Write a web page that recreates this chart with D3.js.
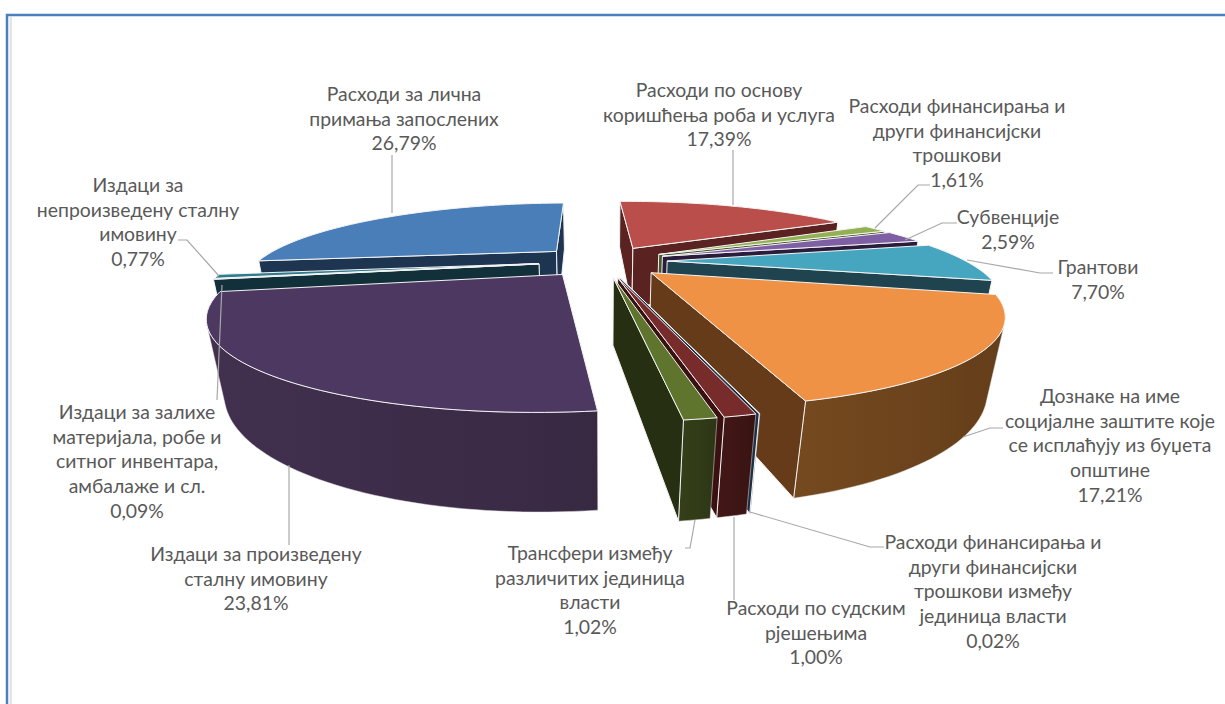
<!DOCTYPE html>
<html>
<head>
<meta charset="utf-8">
<script src="https://cdnjs.cloudflare.com/ajax/libs/d3/7.8.5/d3.min.js"></script>
<style>
  html, body { margin: 0; padding: 0; background: #fff; }
  svg { display: block; }
</style>
</head>
<body>
<div id="chartContainer"></div>
<script>
// values in %, clockwise from the top of the pie
const values = [17.39, 1.61, 2.59, 7.70, 17.21, 0.02, 1.00, 1.02, 23.81, 0.09, 0.77, 26.79];
const valueLabels = ["17,39%", "1,61%", "2,59%", "7,70%", "17,21%", "0,02%", "1,00%", "1,02%", "23,81%", "0,09%", "0,77%", "26,79%"];
const categories = [
  ["Расходи по основу", "коришћења роба и услуга"],
  ["Расходи финансирања и", "други финансијски", "трошкови"],
  ["Субвенције"],
  ["Грантови"],
  ["Дознаке на име", "социјалне заштите које", "се исплаћују из буџета", "општине"],
  ["Расходи финансирања и", "други финансијски", "трошкови између", "јединица власти"],
  ["Расходи по судским", "рјешењима"],
  ["Трансфери између", "различитих јединица", "власти"],
  ["Издаци за произведену", "сталну имовину"],
  ["Издаци за залихе", "материјала, робе и", "ситног инвентара,", "амбалаже и сл."],
  ["Издаци за", "непроизведену сталну", "имовину"],
  ["Расходи за лична", "примања запослених"]
];
const topColors = ["#b94e4b", "#93b052", "#7f5fa3", "#46a6c0", "#f09245", "#3a5a80", "#772b2b", "#5f752e", "#4c3860", "#276a7c", "#2f7c8e", "#4a7eb8"];
const wallColors = ["#5a2220", "#46552a", "#3a2a50", "#1f444f", "#75491f", "#1d2f45", "#421616", "#343f19", "#42304f", "#12303a", "#102a30", "#1e3552"];
const sideColors = ["#5a2220", "#46552a", "#2a1c3c", "#1f444f", "#653b1a", "#1d2f45", "#3a1010", "#272f12", "#42304f", "#12303a", "#102a30", "#1e3552"];

// label centre x and first line centre y, then leader line points
const labelPos = [[719, 90], [957, 106], [1008, 217], [1098, 267], [1110, 396], [993, 542], [816, 608], [590, 553], [256, 554], [137, 412], [138, 185], [404, 94]];
const leaders = [
  [[733, 150], [733, 205]],
  [[930, 185], [918, 185], [875, 228]],
  [[957, 223], [942, 223], [905, 240]],
  [[1053, 273], [1040, 273], [967, 260]],
  [[1003, 428], [990, 428], [963, 437]],
  [[884, 547], [870, 547], [750, 512]],
  [[734, 600], [734, 517]],
  [[685, 548], [690, 548], [695, 520]],
  [[289, 545], [289, 465]],
  [[217, 400], [222, 285]],
  [[178, 240], [187, 240], [219, 276]],
  [[392, 155], [392, 213]]
];

const width = 1225, height = 704;
const svg = d3.select("#chartContainer").append("svg")
  .attr("width", width).attr("height", height)
  .style("font-family", "Lato, 'Noto Sans', sans-serif");
const defs = svg.append("defs");

// frame
svg.append("rect").attr("x", 9.5).attr("y", 17).attr("width", 2.5).attr("height", height).attr("fill", "#e4e4e4");
svg.append("path")
  .attr("d", `M7,${height}V15H${width}`)
  .attr("fill", "none").attr("stroke", "#4a7fbe").attr("stroke-width", 2.5);

// perspective camera
const cx = 603, cy = 261, focal = 776, camDist = 2.6;
const sinE = 0.243, cosE = 0.97, depthDrop = 0.42;
const explode = 0.215, thickness = 0.225;
const startAngle = -0.025;

function project(x, y, z) {
  const zc = camDist + y * cosE - z * depthDrop;
  return [cx + focal * x / zc, cy - focal * (y * sinE + z * cosE) / zc];
}

const arcs = d3.pie().sort(null)
  .startAngle(startAngle).endAngle(startAngle + 2 * Math.PI)(values)
  .map((d, i) => Object.assign(d, { i, mid: (d.startAngle + d.endAngle) / 2 }));

const line = d3.line().curve(d3.curveLinearClosed);
const edge = "#f4f4f4";

// far slices first
const order = arcs.slice().sort((a, b) => Math.cos(b.mid) - Math.cos(a.mid));

order.forEach(d => {
  const ox = explode * Math.sin(d.mid), oy = explode * Math.cos(d.mid);
  const pt = (r, a, z) => project(ox + r * Math.sin(a), oy + r * Math.cos(a), z);
  const g = svg.append("g");
  const n = Math.max(1, Math.ceil((d.endAngle - d.startAngle) / 0.025));
  const angleAt = k => d.startAngle + (d.endAngle - d.startAngle) * k / n;

  // outer wall: the run of segments that faces the camera, shaded across the slice
  const shown = d3.range(n).filter(k =>
    d3.polygonArea([pt(1, angleAt(k), 0), pt(1, angleAt(k + 1), 0), pt(1, angleAt(k + 1), -thickness), pt(1, angleAt(k), -thickness)]) > 0);
  if (shown.length) {
    const ks = shown.concat(shown[shown.length - 1] + 1);
    const upper = ks.map(k => pt(1, angleAt(k), 0));
    const lower = ks.map(k => pt(1, angleAt(k), -thickness)).reverse();
    const id = `wall${d.i}`;
    const grad = defs.append("linearGradient").attr("id", id)
      .attr("gradientUnits", "userSpaceOnUse")
      .attr("x1", upper[0][0]).attr("y1", 0)
      .attr("x2", upper[upper.length - 1][0] + 0.01).attr("y2", 0);
    grad.append("stop").attr("offset", 0).attr("stop-color", d3.color(wallColors[d.i]).darker(0.45));
    grad.append("stop").attr("offset", 1).attr("stop-color", wallColors[d.i]);
    g.append("path").attr("d", line(upper.concat(lower))).attr("fill", `url(#${id})`)
      .attr("stroke", "#e8e8e8").attr("stroke-width", 0.5);
  }

  // radial walls, only where they face the camera
  const startFace = [pt(0, d.startAngle, 0), pt(1, d.startAngle, 0), pt(1, d.startAngle, -thickness), pt(0, d.startAngle, -thickness)];
  const endFace = [pt(0, d.endAngle, 0), pt(0, d.endAngle, -thickness), pt(1, d.endAngle, -thickness), pt(1, d.endAngle, 0)];
  [startFace, endFace].forEach(face => {
    if (d3.polygonArea(face) > 0) {
      g.append("path").attr("d", line(face)).attr("fill", sideColors[d.i])
        .attr("stroke", edge).attr("stroke-width", 1).attr("stroke-linejoin", "round");
    }
  });

  // top
  const rim = d3.range(n + 1).map(k => pt(1, angleAt(k), 0));
  g.append("path").attr("d", line([pt(0, d.mid, 0), ...rim])).attr("fill", topColors[d.i])
    .attr("stroke", edge).attr("stroke-width", 1).attr("stroke-linejoin", "round");
});

// leader lines
svg.append("g").selectAll("path").data(leaders).join("path")
  .attr("d", d => d3.line()(d))
  .attr("fill", "none").attr("stroke", "#a8a8a8").attr("stroke-width", 1.2);

// labels
const lineStep = 24.8;
const labels = svg.append("g").selectAll("text").data(categories).join("text")
  .attr("text-anchor", "middle")
  .attr("fill", "#595959")
  .style("font-size", "19.4px");
labels.each(function(lines, i) {
  const t = d3.select(this);
  lines.concat(valueLabels[i]).forEach((s, j) => {
    t.append("tspan")
      .attr("x", labelPos[i][0])
      .attr("y", labelPos[i][1] + j * lineStep)
      .attr("dy", "0.35em")
      .text(s);
  });
});
</script>
</body>
</html>
